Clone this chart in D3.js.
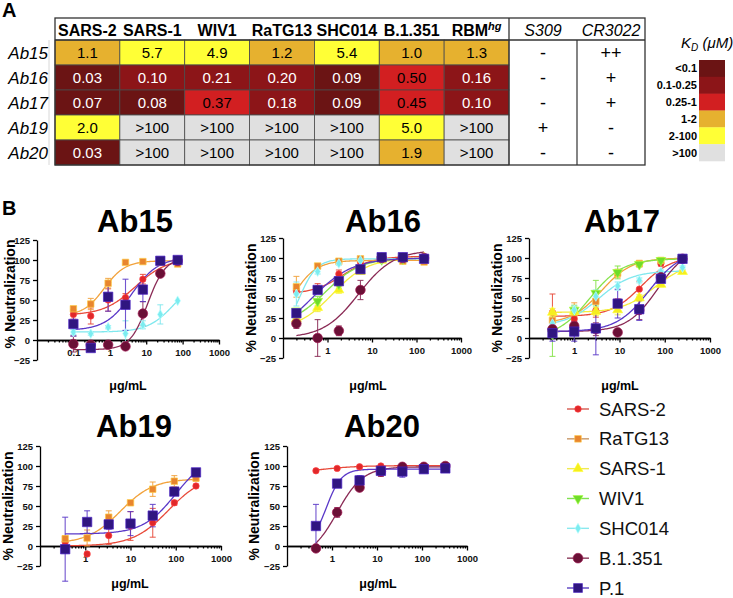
<!DOCTYPE html>
<html><head><meta charset="utf-8">
<script src="https://cdn.jsdelivr.net/npm/d3@7"></script>
<style>
body{margin:0;background:#fff;}
svg{display:block;font-family:Arial,"Liberation Sans",sans-serif;}
</style></head><body>
<svg id="chart" width="733" height="598"></svg>
<script>
// ================= DATA: panel A (KD table) =================
const tableCols = ["SARS-2","SARS-1","WIV1","RaTG13","SHC014","B.1.351","RBM"];
const tableRows = ["Ab15","Ab16","Ab17","Ab19","Ab20"];
const kdAb15 = ["1.1","5.7","4.9","1.2","5.4","1.0","1.3"];
const kdAb16 = ["0.03","0.10","0.21","0.20","0.09","0.50","0.16"];
const kdAb17 = ["0.07","0.08","0.37","0.18","0.09","0.45","0.10"];
const kdAb19 = ["2.0",">100",">100",">100",">100","5.0",">100"];
const kdAb20 = ["0.03",">100",">100",">100",">100","1.9",">100"];
const kdTable = [kdAb15, kdAb16, kdAb17, kdAb19, kdAb20];
const ctrlCols = ["S309","CR3022"];
const s309 = ["-","-","-","+","-"];
const cr3022 = ["++","+","+","-","-"];
const kdBins = ["<0.1","0.1-0.25","0.25-1","1-2","2-100",">100"];
const kdThresholds = [0.1,0.25,1,2,100];
const kdColors = ["#6b1414","#8c1518","#d21f21","#e6b12f","#ffff36","#e0e0e0"];

// ================= DATA: panel B (neutralization) =================
const seriesNames = ["SARS-2","RaTG13","SARS-1","WIV1","SHC014","B.1.351","P.1"];
const yTicks = [-25,0,25,50,75,100,125];
// fit = [bottom, top, EC50, hill]
const ab15Doses = [0.1,0.3,0.9,2.7,8.1,24.4,73.2];
const ab15Values = {
  "SARS-2":[32,30,50,53,76,97,99],
  "RaTG13":[39,45,71,97,98,97,95],
  "SHC014":[10,8,16,8,19,32,49],
  "B.1.351":[-5,-6,-6,-8,33,83,99],
  "P.1":[20,-10,54,44,63,99,100]};
const ab15Errors = {
  "SARS-2":[6,10,14,5,6,2,1],
  "RaTG13":[3,7,6,2,1,1,1],
  "SHC014":[3,2,2,16,5,12,1],
  "B.1.351":[10,3,2,3,15,3,1],
  "P.1":[15,4,18,32,15,1,1]};
const ab15Fits = {
  "SARS-2":[31,102,5,1.0],
  "RaTG13":[30,99,0.7,1.5],
  "SHC014":[10,80,60,1.2],
  "B.1.351":[-12,103,11,1.8],
  "P.1":[12,103,4,1.2]};

const ab16Doses = [0.2,0.6,1.8,5.5,16.5,49.4,148];
const ab16Values = {
  "SARS-2":[59,62,80,95,100,100,100],
  "RaTG13":[64,90,96,99,101,96,95],
  "SARS-1":[24,38,60,83,97,99,100],
  "WIV1":[34,46,67,87,98,99,100],
  "SHC014":[55,83,93,97,99,100,100],
  "B.1.351":[18,0,9,60,100,100,100],
  "P.1":[31,60,71,86,101,101,99]};
const ab16Errors = {
  "SARS-2":[3,6,5,3,1,1,1],
  "RaTG13":[13,3,2,2,1,2,2],
  "SARS-1":[3,5,4,3,1,1,1],
  "WIV1":[3,6,5,3,1,1,1],
  "SHC014":[15,3,2,1,1,1,1],
  "B.1.351":[6,23,6,12,1,1,1],
  "P.1":[3,4,3,4,1,1,1]};
const ab16Fits = {
  "SARS-2":[55,102,2.2,1.3],
  "RaTG13":[0,97,0.15,1.6],
  "SARS-1":[10,100,1.3,1.1],
  "WIV1":[15,100,0.9,1.1],
  "SHC014":[0,99,0.23,2.2],
  "B.1.351":[0,110,5,1.1],
  "P.1":[0,100,0.45,0.95]};

const ab17Doses = [0.33,1.0,3.0,9.1,27.4,82.3,247];
const ab17Values = {
  "SARS-2":[32,24,34,44,61,93,100],
  "RaTG13":[22,32,46,81,93,97,99],
  "SARS-1":[32,33,33,35,50,67,83],
  "WIV1":[5,35,56,82,92,97,99],
  "SHC014":[18,35,52,65,72,83,88],
  "B.1.351":[11,15,11,7,35,76,99],
  "P.1":[6,8,12,43,36,74,99]};
const ab17Errors = {
  "SARS-2":[23,8,8,5,10,3,1],
  "RaTG13":[10,12,10,5,4,2,1],
  "SARS-1":[5,6,5,6,4,3,2],
  "WIV1":[28,6,16,8,3,2,1],
  "SHC014":[6,5,8,5,3,2,2],
  "B.1.351":[8,6,8,3,12,3,1],
  "P.1":[10,12,33,18,14,4,1]};
const ab17Fits = {
  "SARS-2":[27,102,30,1.3],
  "RaTG13":[18,100,4,1.3],
  "SARS-1":[32,95,60,1.2],
  "WIV1":[0,99,2.2,1.2],
  "SHC014":[15,84,3.5,1.2],
  "B.1.351":[8,115,70,1.3],
  "P.1":[8,110,45,1.2]};

const ab19Doses = [0.36,1.1,3.3,10,31,93,280];
const ab19Values = {
  "SARS-2":[5,-10,13,25,29,54,75],
  "RaTG13":[9,10,36,54,71,81,85],
  "P.1":[-4,30,27,28,38,68,92]};
const ab19Errors = {
  "SARS-2":[3,2,11,18,18,3,2],
  "RaTG13":[4,10,8,2,9,7,4],
  "P.1":[40,14,6,15,14,3,2]};
const ab19Fits = {
  "SARS-2":[0,90,70,1.1],
  "RaTG13":[3,84,6,1.2],
  "P.1":[15,115,100,1.2]};

const ab20Doses = [0.44,1.3,4.1,12.2,36.6,110,330];
const ab20Values = {
  "SARS-2":[94,97,99,100,100,100,100],
  "B.1.351":[-3,42,73,93,99,99,100],
  "P.1":[25,78,82,94,93,96,97]};
const ab20Errors = {
  "SARS-2":[1,1,1,1,1,1,1],
  "B.1.351":[2,6,3,6,1,1,1],
  "P.1":[27,3,6,3,7,2,1]};
const ab20Fits = {
  "SARS-2":[90,100.5,0.5,1],
  "B.1.351":[-15,99,1.3,1.5],
  "P.1":[0,96,0.75,2.6]};

// ================= STYLE =================
const markerColor = {"SARS-2":"#e0282a","RaTG13":"#e8852e","SARS-1":"#f5ee1e","WIV1":"#6fdc2a","SHC014":"#7cecf0","B.1.351":"#6a1036","P.1":"#301680"};
const lineColor = {"SARS-2":"#e84a3a","RaTG13":"#f2a23c","SARS-1":"#f3ec3c","WIV1":"#86e34a","SHC014":"#80e8ee","B.1.351":"#8a2a55","P.1":"#5a38c8"};
const legendLineColor = {"SARS-2":"#d65a50","RaTG13":"#c89868","SARS-1":"#f0ea50","WIV1":"#80e050","SHC014":"#8ae8ee","B.1.351":"#8a3a5a","P.1":"#5a40c0"};
const markerShape = {"SARS-2":d3.symbolCircle,"RaTG13":d3.symbolSquare,"SARS-1":d3.symbolTriangle,"WIV1":d3.symbolTriangle,"SHC014":d3.symbolDiamond,"B.1.351":d3.symbolCircle,"P.1":d3.symbolSquare};
const markerSize = {"SARS-2":32,"RaTG13":42,"SARS-1":42,"WIV1":42,"SHC014":28,"B.1.351":72,"P.1":88};
const markerRot = {"WIV1":180};

const svg = d3.select("#chart");

// ================= PANEL A =================
svg.append("text").attr("x",2).attr("y",17).attr("font-size",20).attr("font-weight","bold").text("A");

const tx = d3.scaleBand().domain(tableCols).range([55,509]);
const ty = d3.scaleBand().domain(tableRows).range([40,165]);
const cx = d3.scaleBand().domain(ctrlCols).range([509,645]);
const kdColor = d3.scaleThreshold().domain(kdThresholds).range(kdColors);
const parseKd = s => s.startsWith(">") ? Infinity : +s;

const tg = svg.append("g");
// faint row-label rule
tg.append("line").attr("x1",49).attr("x2",49).attr("y1",40).attr("y2",165).attr("stroke","#d8d8d8").attr("stroke-width",1);

tableRows.forEach((r,i)=>{
  kdTable[i].forEach((lab,j)=>{
    const v = parseKd(lab);
    tg.append("rect").attr("x",tx(tableCols[j])).attr("y",ty(r))
      .attr("width",tx.bandwidth()).attr("height",ty.bandwidth())
      .attr("fill",kdColor(v)).attr("stroke","#4a4a4a").attr("stroke-width",0.8);
    tg.append("text").attr("x",tx(tableCols[j])+tx.bandwidth()/2).attr("y",ty(r)+ty.bandwidth()/2+5.5)
      .attr("text-anchor","middle").attr("font-size",15).attr("fill",v<0.25?"#fff":"#000").text(lab);
  });
  tg.append("text").attr("x",48).attr("y",ty(r)+ty.bandwidth()/2+6).attr("text-anchor","end")
    .attr("font-size",17).attr("font-style","italic").text(r);
  [s309[i], cr3022[i]].forEach((s,k)=>{
    tg.append("text").attr("x",cx(ctrlCols[k])+cx.bandwidth()/2).attr("y",ty(r)+ty.bandwidth()/2+6)
      .attr("text-anchor","middle").attr("font-size",18).text(s);
  });
});
// headers
tableCols.forEach(c=>{
  const t = tg.append("text").attr("x",tx(c)+tx.bandwidth()/2).attr("y",36).attr("text-anchor","middle")
    .attr("font-size",16).attr("font-weight","bold");
  if(c==="RBM"){
    t.append("tspan").text("RBM");
    t.append("tspan").attr("dy",-6).attr("font-size",11).attr("font-style","italic").text("hg");
  } else t.text(c);
});
ctrlCols.forEach(c=>{
  tg.append("text").attr("x",cx(c)+cx.bandwidth()/2).attr("y",36).attr("text-anchor","middle")
    .attr("font-size",16).attr("font-style","italic").text(c);
});
// frame lines
tg.append("rect").attr("x",55).attr("y",18).attr("width",590).attr("height",147).attr("fill","none").attr("stroke","#333").attr("stroke-width",1.3);
tg.append("line").attr("x1",55).attr("x2",645).attr("y1",40).attr("y2",40).attr("stroke","#333").attr("stroke-width",1.3);
tg.append("line").attr("x1",509).attr("x2",509).attr("y1",18).attr("y2",165).attr("stroke","#333").attr("stroke-width",1.3);
tg.append("line").attr("x1",cx("CR3022")).attr("x2",cx("CR3022")).attr("y1",40).attr("y2",165).attr("stroke","#333").attr("stroke-width",1.2);

// KD legend
const kt = svg.append("text").attr("x",681).attr("y",48).attr("font-size",15).attr("font-style","italic");
kt.append("tspan").text("K");
kt.append("tspan").attr("dy",3).attr("font-size",10).text("D");
kt.append("tspan").attr("dy",-3).text(" (\u03bcM)");
const ky = d3.scaleBand().domain(kdBins).range([60,161]);
kdBins.forEach((b,i)=>{
  svg.append("rect").attr("x",699).attr("y",ky(b)).attr("width",26).attr("height",ky.bandwidth()+0.3).attr("fill",kdColors[i]);
  svg.append("text").attr("x",697).attr("y",ky(b)+ky.bandwidth()/2+4).attr("text-anchor","end")
    .attr("font-size",11).attr("font-weight","bold").text(b);
});

// ================= PANEL B =================
svg.append("text").attr("x",2).attr("y",215).attr("font-size",20).attr("font-weight","bold").text("B");

const panels = [
  {title:"Ab15", doses:ab15Doses, values:ab15Values, errors:ab15Errors, fits:ab15Fits, labels:[0.1,1,10,100,1000]},
  {title:"Ab16", doses:ab16Doses, values:ab16Values, errors:ab16Errors, fits:ab16Fits, labels:[1,10,100,1000]},
  {title:"Ab17", doses:ab17Doses, values:ab17Values, errors:ab17Errors, fits:ab17Fits, labels:[1,10,100,1000]},
  {title:"Ab19", doses:ab19Doses, values:ab19Values, errors:ab19Errors, fits:ab19Fits, labels:[1,10,100,1000]},
  {title:"Ab20", doses:ab20Doses, values:ab20Values, errors:ab20Errors, fits:ab20Fits, labels:[1,10,100,1000]}
];
const layouts = [
  {x0:37, x1:219, dMin:0.01, y0:340, tX:135, tY:232, ytX:15, ytY:294, xlX:128, xlY:390},
  {x0:283, x1:461, dMin:0.1, y0:338, tX:383, tY:232, ytX:256, ytY:298, xlX:368, xlY:390},
  {x0:529, x1:710, dMin:0.1, y0:338, tX:622, tY:232, ytX:502, ytY:298, xlX:620, xlY:390},
  {x0:40, x1:221, dMin:0.1, y0:546, tX:134, tY:437, ytX:13, ytY:506, xlX:130, xlY:588},
  {x0:287, x1:467, dMin:0.1, y0:546, tX:382, tY:437, ytX:259, ytY:506, xlX:378, xlY:588}
];

const logistic = (f, d) => f[0] + (f[1]-f[0]) / (1 + Math.pow(f[2]/d, f[3]));

function styleAxis(a){
  a.selectAll("path,line").attr("stroke","#000").attr("stroke-width",1.3);
  a.selectAll("text").attr("font-size",9.5).attr("font-weight","bold").attr("fill","#111")
    .attr("font-family","Arial,'Liberation Sans',sans-serif");
}

panels.forEach((p,pi)=>{
  const L = layouts[pi];
  const g = svg.append("g");
  const x = d3.scaleLog().domain([L.dMin,1000]).range([L.x0,L.x1]);
  const y = d3.scaleLinear().domain([-25,125]).range([L.y0+20, L.y0-100]);

  // minor x ticks
  const minors = [];
  for(let dec=L.dMin; dec<1000*0.999; dec*=10){ for(let k=2;k<=9;k++) minors.push(dec*k); }
  const xm = g.append("g").attr("transform",`translate(0,${L.y0})`)
    .call(d3.axisBottom(x).tickValues(minors).tickSize(2.5).tickSizeOuter(0).tickFormat(""));
  styleAxis(xm);
  const xa = g.append("g").attr("transform",`translate(0,${L.y0})`)
    .call(d3.axisBottom(x).tickValues(p.labels).tickSize(4.5).tickPadding(5).tickSizeOuter(0).tickFormat(d=>String(d)));
  styleAxis(xa);
  const ya = g.append("g").attr("transform",`translate(${L.x0},0)`)
    .call(d3.axisLeft(y).tickValues(yTicks).tickSize(4).tickPadding(3).tickSizeOuter(0));
  styleAxis(ya);

  // titles
  g.append("text").attr("x",L.tX).attr("y",L.tY).attr("text-anchor","middle").attr("font-size",31).attr("font-weight","bold").text(p.title);
  g.append("text").attr("transform",`translate(${L.ytX},${L.ytY}) rotate(-90)`).attr("text-anchor","middle")
    .attr("font-size",14).attr("font-weight","bold").text("% Neutralization");
  g.append("text").attr("x",L.xlX).attr("y",L.xlY).attr("text-anchor","middle").attr("font-size",12.5).attr("font-weight","bold").text("\u03bcg/mL");

  const names = seriesNames.filter(n => p.values[n]);
  const dMin = p.doses[0], dMax = p.doses[p.doses.length-1];
  const samples = d3.range(0,121).map(i => dMin*Math.pow(dMax/dMin, i/120));
  const line = d3.line().x(d=>x(d[0])).y(d=>y(d[1])).curve(d3.curveLinear);
  // curves
  names.forEach(n=>{
    const f = p.fits[n];
    g.append("path").attr("d", line(samples.map(d=>[d, logistic(f,d)])))
      .attr("fill","none").attr("stroke",lineColor[n]).attr("stroke-width",1.3);
  });
  // error bars
  names.forEach(n=>{
    p.doses.forEach((d,i)=>{
      const v = p.values[n][i], e = p.errors[n][i];
      if(e < 2) return;
      const xx = x(d);
      g.append("line").attr("x1",xx).attr("x2",xx).attr("y1",y(v-e)).attr("y2",y(v+e)).attr("stroke",lineColor[n]).attr("stroke-width",1.1).attr("opacity",0.85);
      [v-e, v+e].forEach(c=>{
        g.append("line").attr("x1",xx-3).attr("x2",xx+3).attr("y1",y(c)).attr("y2",y(c)).attr("stroke",lineColor[n]).attr("stroke-width",1.1).attr("opacity",0.85);
      });
    });
  });
  // markers
  names.forEach(n=>{
    const sym = d3.symbol().type(markerShape[n]).size(markerSize[n]);
    p.doses.forEach((d,i)=>{
      g.append("path").attr("d",sym())
        .attr("transform",`translate(${x(d)},${y(p.values[n][i])}) rotate(${markerRot[n]||0})`)
        .attr("fill",markerColor[n]).attr("stroke",d3.color(markerColor[n]).brighter(1.2)).attr("stroke-width",0.7);
    });
  });
});

// series legend
const ly = d3.scalePoint().domain(seriesNames).range([409,588]);
seriesNames.forEach(n=>{
  const yy = ly(n);
  svg.append("line").attr("x1",567).attr("x2",589).attr("y1",yy).attr("y2",yy).attr("stroke",legendLineColor[n]).attr("stroke-width",1.4);
  const sym = d3.symbol().type(markerShape[n]).size(markerSize[n]*(n==="P.1"?0.9:1.05));
  svg.append("path").attr("d",sym()).attr("transform",`translate(578,${yy}) rotate(${markerRot[n]||0})`)
    .attr("fill",markerColor[n]).attr("stroke",d3.color(markerColor[n]).brighter(1.2)).attr("stroke-width",0.6);
  svg.append("text").attr("x",599).attr("y",yy+6.5).attr("font-size",18.5).attr("fill","#111").text(n);
});
</script>
</body></html>
